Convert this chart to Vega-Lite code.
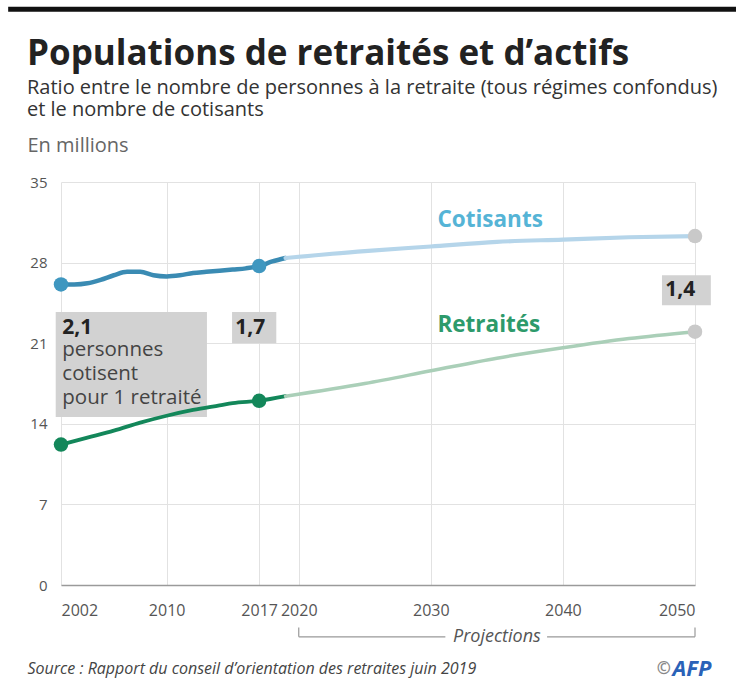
{
  "$schema": "https://vega.github.io/schema/vega-lite/v6.json",
  "width": 634,
  "height": 403,
  "autosize": {"type": "none"},
  "padding": {"left": 61, "top": 182, "right": 41, "bottom": 98},
  "background": "white",
  "config": {
    "font": "Open Sans",
    "view": {"stroke": null},
    "axis": {"gridColor": "#e2e2e2", "gridWidth": 1, "ticks": false, "labelColor": "#555", "labelFontSize": 15, "labelFont": "Open Sans"}
  },
  "title": {
    "text": "Populations de retraités et d’actifs",
    "subtitle": ["Ratio entre le nombre de personnes à la retraite (tous régimes confondus)", "et le nombre de cotisants"],
    "anchor": "start",
    "frame": "group",
    "dx": -34,
    "offset": -113,
    "fontSize": 35,
    "fontWeight": "bold",
    "color": "#222",
    "subtitleFontSize": 20,
    "subtitleColor": "#333",
    "subtitlePadding": 6,
    "subtitleLineHeight": 22
  },
  "resolve": {"scale": {"color": "independent", "size": "independent", "strokeWidth": "independent"}},
  "datasets": {
    "series": [
      {"key": "Cotisants hist", "year": 2002, "value": 26.1},
      {"key": "Cotisants hist", "year": 2003, "value": 26.1},
      {"key": "Cotisants hist", "year": 2004, "value": 26.2},
      {"key": "Cotisants hist", "year": 2005, "value": 26.5},
      {"key": "Cotisants hist", "year": 2006, "value": 26.9},
      {"key": "Cotisants hist", "year": 2007, "value": 27.2},
      {"key": "Cotisants hist", "year": 2008, "value": 27.2},
      {"key": "Cotisants hist", "year": 2009, "value": 26.9},
      {"key": "Cotisants hist", "year": 2010, "value": 26.8},
      {"key": "Cotisants hist", "year": 2011, "value": 26.9},
      {"key": "Cotisants hist", "year": 2012, "value": 27.1},
      {"key": "Cotisants hist", "year": 2013, "value": 27.2},
      {"key": "Cotisants hist", "year": 2014, "value": 27.3},
      {"key": "Cotisants hist", "year": 2015, "value": 27.4},
      {"key": "Cotisants hist", "year": 2016, "value": 27.5},
      {"key": "Cotisants hist", "year": 2017, "value": 27.7},
      {"key": "Cotisants hist", "year": 2018, "value": 28.1},
      {"key": "Cotisants hist", "year": 2019, "value": 28.4},
      {"key": "Cotisants proj", "year": 2019, "value": 28.4},
      {"key": "Cotisants proj", "year": 2025, "value": 29.0},
      {"key": "Cotisants proj", "year": 2030, "value": 29.4},
      {"key": "Cotisants proj", "year": 2035, "value": 29.8},
      {"key": "Cotisants proj", "year": 2040, "value": 30.0},
      {"key": "Cotisants proj", "year": 2045, "value": 30.2},
      {"key": "Cotisants proj", "year": 2050, "value": 30.3},
      {"key": "Retraités hist", "year": 2002, "value": 12.2},
      {"key": "Retraités hist", "year": 2004, "value": 12.8},
      {"key": "Retraités hist", "year": 2006, "value": 13.4},
      {"key": "Retraités hist", "year": 2008, "value": 14.1},
      {"key": "Retraités hist", "year": 2010, "value": 14.7},
      {"key": "Retraités hist", "year": 2012, "value": 15.2},
      {"key": "Retraités hist", "year": 2014, "value": 15.6},
      {"key": "Retraités hist", "year": 2015, "value": 15.8},
      {"key": "Retraités hist", "year": 2017, "value": 16.0},
      {"key": "Retraités hist", "year": 2019, "value": 16.4},
      {"key": "Retraités proj", "year": 2019, "value": 16.4},
      {"key": "Retraités proj", "year": 2025, "value": 17.5},
      {"key": "Retraités proj", "year": 2030, "value": 18.6},
      {"key": "Retraités proj", "year": 2035, "value": 19.7},
      {"key": "Retraités proj", "year": 2040, "value": 20.6},
      {"key": "Retraités proj", "year": 2045, "value": 21.4},
      {"key": "Retraités proj", "year": 2050, "value": 22.0}
    ],
    "dots": [
      {"key": "Cotisants hist", "year": 2002, "value": 26.1},
      {"key": "Cotisants hist", "year": 2017, "value": 27.7},
      {"key": "Retraités hist", "year": 2002, "value": 12.2},
      {"key": "Retraités hist", "year": 2017, "value": 16.0},
      {"key": "end", "year": 2050, "value": 30.3},
      {"key": "end", "year": 2050, "value": 22.0}
    ],
    "boxes": [
      {"x": 2001.6, "x2": 2013.05, "y": 23.7, "y2": 14.6},
      {"x": 2014.95, "x2": 2018.3, "y": 23.7, "y2": 21.0},
      {"x": 2047.5, "x2": 2051.2, "y": 26.9, "y2": 24.3}
    ],
    "boldlabels": [
      {"year": 2002.1, "value": 22.3, "label": "2,1"},
      {"year": 2015.2, "value": 22.3, "label": "1,7"},
      {"year": 2047.75, "value": 25.6, "label": "1,4"}
    ],
    "plainlabels": [
      {"year": 2002.1, "value": 20.2, "label": ["personnes", "cotisent", "pour 1 retraité"]}
    ],
    "serieslabels": [
      {"year": 2030.5, "value": 31.7, "label": "Cotisants", "key": "Cotisants"},
      {"year": 2030.5, "value": 22.6, "label": "Retraités", "key": "Retraités"}
    ],
    "topbar": [{"x": 1998, "x2": 2053.2, "y": 50}],
    "bracket": [
      {"x": 2020, "x2": 2031.1, "y": -4.5},
      {"x": 2038.8, "x2": 2050, "y": -4.5}
    ],
    "brackticks": [
      {"x": 2020, "y": -4.5, "y2": -3.7},
      {"x": 2050, "y": -4.5, "y2": -3.7}
    ],
    "projlabel": [{"x": 2035, "y": -4.5, "label": "Projections"}],
    "credit": [
      {"x": 2047.1, "y": -7.3, "label": "©", "key": "c"},
      {"x": 2048.3, "y": -7.3, "label": "AFP", "key": "afp"}
    ]
  },
  "layer": [
    {
      "data": {"name": "topbar"},
      "mark": {"type": "rule", "color": "#111", "strokeWidth": 5, "clip": false},
      "encoding": {
        "x": {"field": "x", "type": "quantitative", "scale": {"domain": [2002, 2050], "nice": false, "zero": false}},
        "x2": {"field": "x2"},
        "y": {"field": "y", "type": "quantitative", "scale": {"domain": [0, 35], "nice": false}}
      }
    },
    {
      "data": {"name": "boxes"},
      "mark": {"type": "rect", "color": "#d2d2d2", "clip": false},
      "encoding": {
        "x": {"field": "x", "type": "quantitative"},
        "x2": {"field": "x2"},
        "y": {"field": "y", "type": "quantitative"},
        "y2": {"field": "y2"}
      }
    },
    {
      "data": {"name": "series"},
      "mark": {"type": "line", "interpolate": "monotone", "strokeCap": "round"},
      "encoding": {
        "x": {
          "field": "year", "type": "quantitative",
          "axis": {
            "values": [2002, 2010, 2017, 2020, 2030, 2040, 2050],
            "format": "d",
            "grid": true,
            "domain": true,
            "domainColor": "#9a9a9a",
            "domainWidth": 1.5,
            "labelPadding": 17,
            "labelFontSize": 16,
            "title": "Source : Rapport du conseil d’orientation des retraites juin 2019",
            "titleX": -34,
            "titleY": 83,
            "titleAlign": "left",
            "titleBaseline": "middle",
            "titleAnchor": "start",
            "titleFontStyle": "italic",
            "titleFontWeight": "normal",
            "titleFontSize": 16,
            "titleColor": "#444"
          }
        },
        "y": {
          "field": "value", "type": "quantitative",
          "axis": {
            "values": [0, 7, 14, 21, 28, 35],
            "grid": true,
            "domain": false,
            "labelPadding": 14,
            "title": "En millions",
            "titleAngle": 0,
            "titleX": -34,
            "titleY": -37,
            "titleAlign": "left",
            "titleBaseline": "middle",
            "titleAnchor": "start",
            "titleFontWeight": "normal",
            "titleFontSize": 20,
            "titleColor": "#666"
          }
        },
        "color": {
          "field": "key", "type": "nominal", "legend": null,
          "scale": {
            "domain": ["Cotisants hist", "Cotisants proj", "Retraités hist", "Retraités proj"],
            "range": ["#3a8bb3", "#b5d5ea", "#13875a", "#aacfb8"]
          }
        },
        "strokeWidth": {
          "field": "key", "type": "nominal", "legend": null,
          "scale": {
            "domain": ["Cotisants hist", "Cotisants proj", "Retraités hist", "Retraités proj"],
            "range": [4.5, 3.5, 4.5, 3.5]
          }
        }
      }
    },
    {
      "data": {"name": "dots"},
      "mark": {"type": "circle", "opacity": 1, "clip": false},
      "encoding": {
        "x": {"field": "year", "type": "quantitative"},
        "y": {"field": "value", "type": "quantitative"},
        "color": {
          "field": "key", "type": "nominal", "legend": null,
          "scale": {
            "domain": ["Cotisants hist", "Retraités hist", "end"],
            "range": ["#3f97c0", "#13875a", "#c9c9c9"]
          }
        },
        "size": {
          "field": "key", "type": "nominal", "legend": null,
          "scale": {"domain": ["Cotisants hist", "Retraités hist", "end"], "range": [210, 210, 150]}
        }
      }
    },
    {
      "data": {"name": "boldlabels"},
      "mark": {"type": "text", "align": "left", "baseline": "middle", "fontSize": 21, "fontWeight": "bold", "color": "#222", "clip": false},
      "encoding": {
        "x": {"field": "year", "type": "quantitative"},
        "y": {"field": "value", "type": "quantitative"},
        "text": {"field": "label"}
      }
    },
    {
      "data": {"name": "plainlabels"},
      "mark": {"type": "text", "align": "left", "baseline": "top", "dy": -12, "fontSize": 20.5, "lineHeight": 24, "color": "#444"},
      "encoding": {
        "x": {"field": "year", "type": "quantitative"},
        "y": {"field": "value", "type": "quantitative"},
        "text": {"field": "label"}
      }
    },
    {
      "data": {"name": "serieslabels"},
      "mark": {"type": "text", "align": "left", "baseline": "middle", "fontSize": 22.5, "fontWeight": "bold"},
      "encoding": {
        "x": {"field": "year", "type": "quantitative"},
        "y": {"field": "value", "type": "quantitative"},
        "text": {"field": "label"},
        "color": {
          "field": "key", "type": "nominal", "legend": null,
          "scale": {"domain": ["Cotisants", "Retraités"], "range": ["#55b4d6", "#2d9a6b"]}
        }
      }
    },
    {
      "data": {"name": "bracket"},
      "mark": {"type": "rule", "color": "#999", "strokeWidth": 1.2, "clip": false},
      "encoding": {
        "x": {"field": "x", "type": "quantitative"},
        "x2": {"field": "x2"},
        "y": {"field": "y", "type": "quantitative"}
      }
    },
    {
      "data": {"name": "brackticks"},
      "mark": {"type": "rule", "color": "#999", "strokeWidth": 1.2, "clip": false},
      "encoding": {
        "x": {"field": "x", "type": "quantitative"},
        "y": {"field": "y", "type": "quantitative"},
        "y2": {"field": "y2"}
      }
    },
    {
      "data": {"name": "projlabel"},
      "mark": {"type": "text", "align": "center", "baseline": "middle", "fontSize": 18, "fontStyle": "italic", "color": "#555", "clip": false},
      "encoding": {
        "x": {"field": "x", "type": "quantitative"},
        "y": {"field": "y", "type": "quantitative"},
        "text": {"field": "label"}
      }
    },
    {
      "data": {"name": "credit"},
      "mark": {"type": "text", "align": "left", "baseline": "middle", "fontWeight": "bold", "fontStyle": "italic", "clip": false},
      "encoding": {
        "x": {"field": "x", "type": "quantitative"},
        "y": {"field": "y", "type": "quantitative"},
        "text": {"field": "label"},
        "color": {"field": "key", "type": "nominal", "legend": null, "scale": {"domain": ["c", "afp"], "range": ["#888", "#2a62b8"]}},
        "size": {"field": "key", "type": "nominal", "legend": null, "scale": {"domain": ["c", "afp"], "range": [17, 22]}}
      }
    }
  ]
}
